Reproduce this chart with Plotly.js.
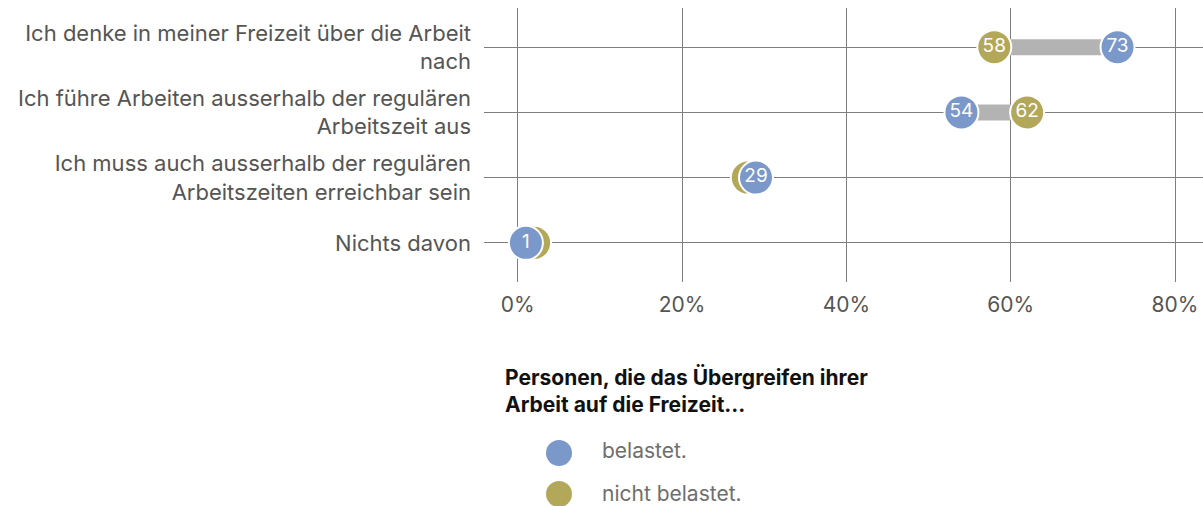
<!DOCTYPE html>
<html>
<head>
<meta charset="utf-8">
<script src="https://cdn.plot.ly/plotly-3.0.1.min.js"></script>
<style>html,body{margin:0;padding:0;background:#fff;}#chart{width:1203px;height:506px;}</style>
</head>
<body>
<div id="chart"></div>
<script>
const categories = [
  "Ich denke in meiner Freizeit über die Arbeit<br>nach",
  "Ich führe Arbeiten ausserhalb der regulären<br>Arbeitszeit aus",
  "Ich muss auch ausserhalb der regulären<br>Arbeitszeiten erreichbar sein",
  "Nichts davon"
];
const belastet = [73, 54, 29, 1];
const nichtBelastet = [58, 62, 28, 2];
const seriesNames = ["belastet.", "nicht belastet."];
const legendTitle = "Personen, die das Übergreifen ihrer<br>Arbeit auf die Freizeit...";
const xTickVals = [0, 20, 40, 60, 80];
const xTickText = ["0%", "20%", "40%", "60%", "80%"];

const BLUE = "#7b98ca";
const OLIVE = "#b3a85a";
const FONT = "Inter, Liberation Sans, Arial, sans-serif";

// connector segments
const cx = [], cy = [];
categories.forEach((c, i) => {
  cx.push(nichtBelastet[i], belastet[i], null);
  cy.push(c, c, null);
});
// labels of the back series are hidden where the front marker covers them
const backLabels = nichtBelastet.map((v, i) => Math.abs(v - belastet[i]) < 4 ? "" : String(v));

const traces = [
  {
    x: cx, y: cy, mode: "lines", type: "scatter",
    line: {color: "#b3b3b3", width: 16}, showlegend: false, hoverinfo: "skip"
  },
  {
    x: nichtBelastet, y: categories, name: seriesNames[1], type: "scatter",
    mode: "markers+text", text: backLabels, textposition: "middle center",
    textfont: {color: "#ffffff", size: 19, family: FONT},
    marker: {color: OLIVE, size: 34, line: {color: "#ffffff", width: 2}},
    showlegend: false
  },
  {
    x: belastet, y: categories, name: seriesNames[0], type: "scatter",
    mode: "markers+text", text: belastet.map(String), textposition: "middle center",
    textfont: {color: "#ffffff", size: 19, family: FONT},
    marker: {color: BLUE, size: 34, line: {color: "#ffffff", width: 2}},
    showlegend: false
  }
];

// legend drawn manually (large symbols)
const plotL = 484, plotW = 719, plotT = 8, plotH = 274;
const px2x = p => (p - plotL) / plotW;
const px2y = p => (plotT + plotH - p) / plotH;
const legendItems = [
  {name: seriesNames[0], color: BLUE, y: 453, ty: 451},
  {name: seriesNames[1], color: OLIVE, y: 494, ty: 493}
];
const shapes = legendItems.map(it => ({
  type: "circle", xref: "paper", yref: "paper",
  xsizemode: "pixel", ysizemode: "pixel",
  xanchor: px2x(559), yanchor: px2y(it.y),
  x0: -13, x1: 13, y0: -13, y1: 13,
  fillcolor: it.color, line: {width: 0}
}));
const annotations = [{
  text: "<b>" + legendTitle + "</b>", xref: "paper", yref: "paper",
  x: px2x(503), y: px2y(390), xanchor: "left", yanchor: "middle", align: "left",
  showarrow: false, font: {size: 21, color: "#111111", family: FONT}
}].concat(legendItems.map(it => ({
  text: it.name, xref: "paper", yref: "paper",
  x: px2x(600), y: px2y(it.ty), xanchor: "left", yanchor: "middle", align: "left",
  showarrow: false, font: {size: 21, color: "#6e6e6e", family: FONT}
})));

const layout = {
  width: 1203, height: 506,
  margin: {l: plotL, r: 0, t: plotT, b: 506 - plotT - plotH, pad: 0},
  paper_bgcolor: "#ffffff", plot_bgcolor: "#ffffff",
  font: {family: FONT, color: "#555555", size: 20},
  xaxis: {
    range: [-4.1, 83.4], tickvals: xTickVals, ticktext: xTickText,
    showgrid: true, gridcolor: "#7f7f7f", gridwidth: 1, zeroline: false,
    showline: false, ticks: "", ticklabelstandoff: 8,
    tickfont: {size: 21, color: "#555555", family: FONT}, fixedrange: true
  },
  yaxis: {
    type: "category", categoryarray: categories, categoryorder: "array",
    range: [3.6, -0.6], showgrid: true, gridcolor: "#7f7f7f", gridwidth: 1,
    zeroline: false, showline: false, ticks: "", ticklabelstandoff: 12,
    tickfont: {size: 22, color: "#555555", family: FONT}, fixedrange: true
  },
  showlegend: false,
  shapes: shapes,
  annotations: annotations
};

Plotly.newPlot("chart", traces, layout, {displayModeBar: false, staticPlot: true});
</script>
</body>
</html>
